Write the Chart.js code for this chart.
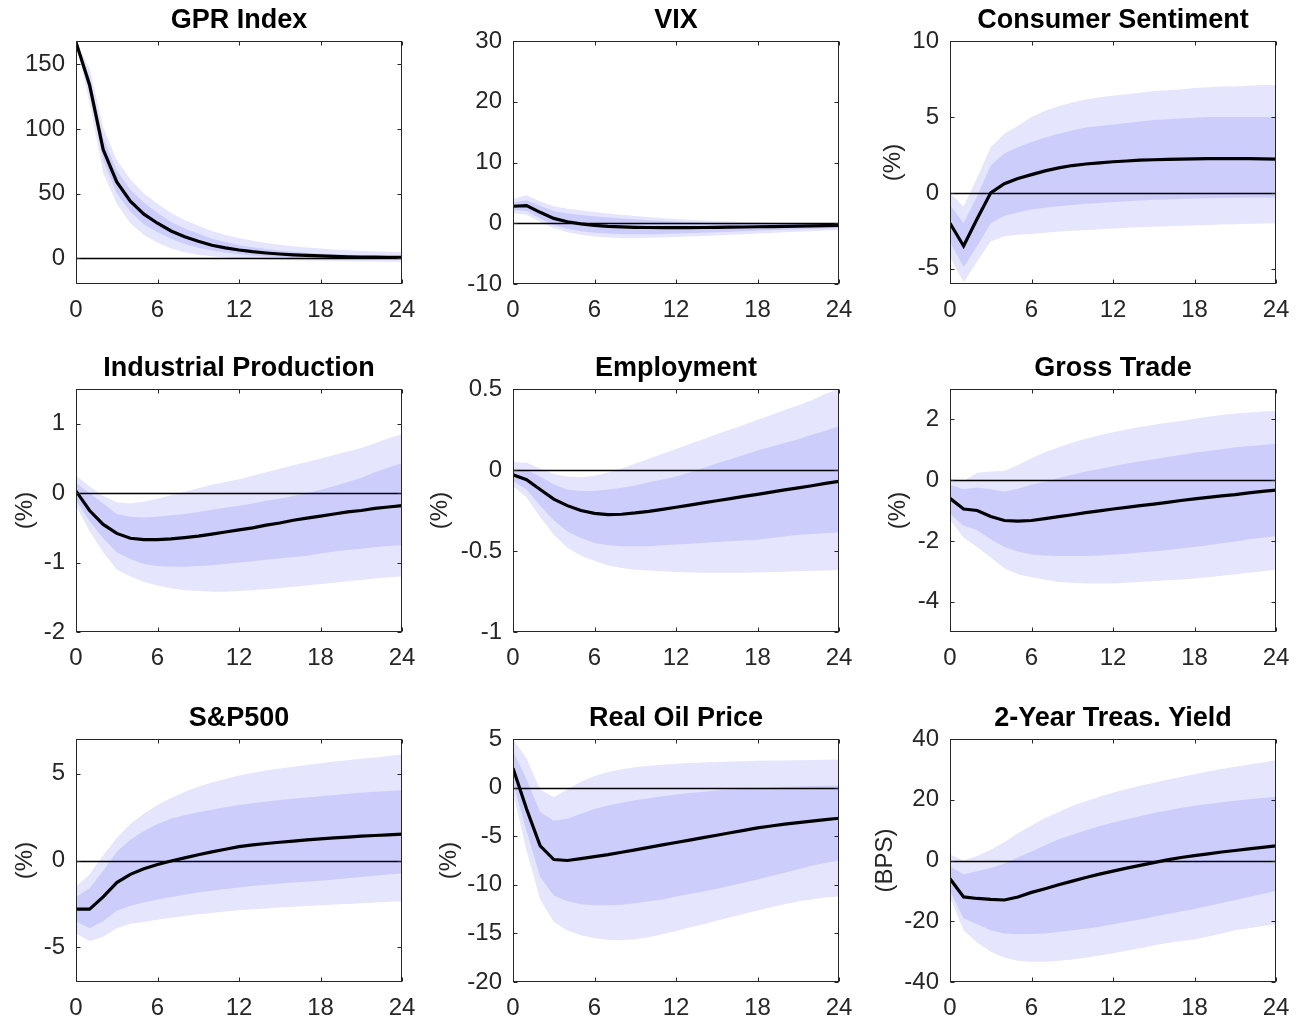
<!DOCTYPE html>
<html lang="en">
<head>
<meta charset="UTF-8">
<title>Impulse responses to a GPR shock</title>
<script src="https://cdn.jsdelivr.net/npm/chart.js@4"></script>
<style>
  body { margin: 0; background: #fff; }
  #grid { position: relative; width: 1302px; height: 1021px; overflow: hidden; }
  #grid canvas { position: absolute; }
</style>
</head>
<body>
<div id="grid"></div>

<script>
// horizons (months after the shock)
const horizons = [0, 1, 2, 3, 4, 5, 6, 7, 8, 9, 10, 11, 12, 13, 14, 15, 16, 17, 18, 19, 20, 21, 22, 23, 24];
const xTicks = [0, 6, 12, 18, 24];

// GPR Index
const gprMedian  = [167, 134, 84, 59, 44, 34, 27, 21, 16.5, 13, 10, 8, 6.3, 5, 4, 3.2, 2.6, 2.1, 1.7, 1.4, 1.1, 0.9, 0.8, 0.7, 0.6];
const gprInnerUp = [167, 140, 93, 68, 53, 43, 35, 28, 23, 19, 15, 12.5, 10, 8.5, 7, 6, 5, 4.2, 3.5, 3, 2.6, 2.2, 1.9, 1.7, 1.5];
const gprInnerLo = [167, 128, 76, 50, 36, 26, 20, 15, 11, 8, 6, 4.3, 3, 2, 1.3, 0.8, 0.4, 0.1, -0.1, -0.3, -0.4, -0.5, -0.6, -0.7, -0.8];
const gprOuterUp = [167, 147, 101, 76, 61, 50, 42, 35, 29.5, 25, 21, 18, 15.5, 13.5, 11.8, 10.4, 9.2, 8.2, 7.4, 6.7, 6.1, 5.6, 5.2, 4.9, 4.6];
const gprOuterLo = [167, 120, 66, 42, 27, 18, 12, 7.5, 4.5, 2.7, 1.4, 0.5, -0.2, -0.7, -1.1, -1.4, -1.7, -1.9, -2.1, -2.3, -2.4, -2.5, -2.6, -2.7, -2.8];

// VIX
const vixMedian  = [2.8, 2.9, 1.8, 0.8, 0.25, -0.1, -0.35, -0.5, -0.6, -0.67, -0.7, -0.72, -0.72, -0.72, -0.7, -0.68, -0.65, -0.62, -0.58, -0.55, -0.5, -0.46, -0.42, -0.38, -0.35];
const vixInnerUp = [3.4, 3.8, 2.9, 2.0, 1.6, 1.35, 1.15, 0.95, 0.8, 0.65, 0.5, 0.4, 0.3, 0.2, 0.12, 0.06, 0.0, -0.03, -0.05, -0.07, -0.08, -0.08, -0.08, -0.08, -0.08];
const vixInnerLo = [2.2, 2.0, 0.8, -0.3, -0.9, -1.3, -1.55, -1.7, -1.8, -1.82, -1.8, -1.75, -1.7, -1.63, -1.55, -1.48, -1.4, -1.32, -1.24, -1.16, -1.08, -1.0, -0.93, -0.86, -0.8];
const vixOuterUp = [4.0, 4.6, 3.6, 2.8, 2.4, 2.1, 1.85, 1.6, 1.4, 1.2, 1.0, 0.85, 0.7, 0.58, 0.47, 0.38, 0.3, 0.22, 0.16, 0.1, 0.06, 0.03, 0.0, -0.02, -0.03];
const vixOuterLo = [1.6, 1.4, 0.2, -0.8, -1.5, -1.9, -2.2, -2.35, -2.45, -2.45, -2.4, -2.35, -2.28, -2.2, -2.1, -2.0, -1.9, -1.8, -1.7, -1.6, -1.5, -1.4, -1.3, -1.2, -1.1];

// Consumer Sentiment
const csMedian  = [-2.0, -3.5, -1.7, 0.0, 0.6, 0.95, 1.2, 1.45, 1.65, 1.8, 1.9, 1.98, 2.05, 2.1, 2.15, 2.18, 2.2, 2.22, 2.24, 2.25, 2.25, 2.25, 2.25, 2.24, 2.22];
const csInnerUp = [-0.8, -2.0, -0.2, 1.8, 2.6, 3.0, 3.35, 3.65, 3.9, 4.1, 4.3, 4.4, 4.5, 4.6, 4.7, 4.8, 4.85, 4.9, 4.95, 5.0, 5.0, 5.0, 5.0, 5.0, 5.0];
const csInnerLo = [-3.2, -4.9, -3.5, -2.0, -1.5, -1.3, -1.1, -0.98, -0.88, -0.8, -0.72, -0.66, -0.6, -0.55, -0.5, -0.46, -0.43, -0.4, -0.37, -0.35, -0.33, -0.32, -0.31, -0.3, -0.3];
const csOuterUp = [0.0, -0.9, 1.0, 3.0, 3.9, 4.4, 5.0, 5.4, 5.7, 5.95, 6.15, 6.3, 6.4, 6.5, 6.6, 6.7, 6.75, 6.8, 6.9, 6.95, 7.0, 7.0, 7.05, 7.1, 7.1];
const csOuterLo = [-4.2, -5.9, -4.5, -3.2, -2.85, -2.75, -2.7, -2.62, -2.55, -2.5, -2.45, -2.4, -2.35, -2.3, -2.27, -2.23, -2.2, -2.17, -2.14, -2.11, -2.08, -2.06, -2.04, -2.02, -2.0];

// Industrial Production
const ipMedian  = [0.03, -0.25, -0.45, -0.58, -0.65, -0.67, -0.67, -0.66, -0.64, -0.62, -0.59, -0.56, -0.53, -0.5, -0.46, -0.43, -0.39, -0.36, -0.33, -0.3, -0.27, -0.25, -0.22, -0.2, -0.18];
const ipInnerUp = [0.15, 0.0, -0.15, -0.3, -0.34, -0.35, -0.34, -0.32, -0.3, -0.27, -0.24, -0.21, -0.18, -0.15, -0.11, -0.08, -0.04, 0.0, 0.05, 0.1, 0.16, 0.22, 0.3, 0.37, 0.43];
const ipInnerLo = [-0.1, -0.4, -0.65, -0.85, -0.95, -1.02, -1.05, -1.06, -1.06, -1.05, -1.04, -1.02, -1.0, -0.98, -0.96, -0.94, -0.92, -0.9, -0.87, -0.84, -0.82, -0.8, -0.78, -0.76, -0.75];
const ipOuterUp = [0.25, 0.1, -0.04, -0.13, -0.15, -0.12, -0.08, -0.03, 0.02, 0.07, 0.12, 0.16, 0.2, 0.25, 0.3, 0.35, 0.4, 0.45, 0.5, 0.55, 0.6, 0.65, 0.72, 0.79, 0.85];
const ipOuterLo = [-0.18, -0.55, -0.85, -1.1, -1.2, -1.28, -1.33, -1.37, -1.4, -1.41, -1.42, -1.42, -1.41, -1.4, -1.38, -1.37, -1.35, -1.33, -1.31, -1.29, -1.27, -1.25, -1.23, -1.21, -1.2];

// Employment
const empMedian  = [-0.03, -0.06, -0.12, -0.18, -0.22, -0.25, -0.268, -0.275, -0.273, -0.265, -0.255, -0.243, -0.23, -0.217, -0.203, -0.19, -0.177, -0.163, -0.15, -0.137, -0.123, -0.11, -0.097, -0.083, -0.07];
const empInnerUp = [0.01, 0.0, -0.04, -0.09, -0.12, -0.13, -0.13, -0.12, -0.11, -0.095, -0.075, -0.058, -0.04, -0.015, 0.012, 0.04, 0.067, 0.093, 0.12, 0.143, 0.167, 0.19, 0.217, 0.243, 0.27];
const empInnerLo = [-0.07, -0.12, -0.22, -0.31, -0.38, -0.42, -0.45, -0.465, -0.47, -0.47, -0.47, -0.465, -0.46, -0.455, -0.45, -0.445, -0.44, -0.435, -0.43, -0.42, -0.41, -0.4, -0.395, -0.39, -0.385];
const empOuterUp = [0.05, 0.045, 0.01, -0.025, -0.04, -0.045, -0.035, -0.015, 0.01, 0.04, 0.07, 0.1, 0.13, 0.16, 0.19, 0.22, 0.25, 0.28, 0.31, 0.34, 0.37, 0.4, 0.43, 0.47, 0.5];
const empOuterLo = [-0.1, -0.17, -0.29, -0.4, -0.48, -0.53, -0.56, -0.59, -0.605, -0.615, -0.62, -0.625, -0.63, -0.632, -0.634, -0.635, -0.635, -0.635, -0.633, -0.63, -0.628, -0.625, -0.622, -0.62, -0.618];

// Gross Trade
const gtMedian  = [-0.6, -0.95, -1.0, -1.2, -1.33, -1.35, -1.33, -1.27, -1.2, -1.14, -1.07, -1.01, -0.95, -0.9, -0.84, -0.79, -0.73, -0.67, -0.62, -0.57, -0.52, -0.48, -0.42, -0.37, -0.33];
const gtInnerUp = [-0.15, -0.3, -0.24, -0.3, -0.38, -0.28, -0.15, -0.05, 0.07, 0.18, 0.28, 0.37, 0.46, 0.54, 0.62, 0.69, 0.76, 0.83, 0.9, 0.96, 1.02, 1.08, 1.12, 1.16, 1.2];
const gtInnerLo = [-1.1, -1.5, -1.65, -1.95, -2.2, -2.35, -2.45, -2.48, -2.5, -2.5, -2.5, -2.48, -2.45, -2.42, -2.38, -2.35, -2.3, -2.25, -2.2, -2.14, -2.08, -2.02, -1.95, -1.9, -1.85];
const gtOuterUp = [0.05, -0.03, 0.24, 0.28, 0.3, 0.5, 0.72, 0.92, 1.08, 1.23, 1.36, 1.48, 1.58, 1.67, 1.75, 1.82, 1.89, 1.95, 2.02, 2.09, 2.14, 2.19, 2.23, 2.26, 2.28];
const gtOuterLo = [-1.3, -1.9, -2.2, -2.55, -2.9, -3.1, -3.2, -3.28, -3.35, -3.38, -3.4, -3.4, -3.4, -3.38, -3.35, -3.32, -3.3, -3.27, -3.24, -3.2, -3.15, -3.1, -3.05, -3.0, -2.95];

// S&P500
const spMedian  = [-2.8, -2.8, -2.1, -1.27, -0.8, -0.48, -0.23, -0.03, 0.15, 0.33, 0.5, 0.65, 0.8, 0.9, 0.98, 1.05, 1.12, 1.19, 1.25, 1.3, 1.35, 1.4, 1.44, 1.48, 1.52];
const spInnerUp = [-2.1, -1.6, -0.6, 0.5, 1.2, 1.7, 2.1, 2.4, 2.6, 2.78, 2.93, 3.07, 3.2, 3.3, 3.4, 3.48, 3.56, 3.63, 3.7, 3.77, 3.84, 3.9, 3.96, 4.0, 4.05];
const spInnerLo = [-3.5, -3.9, -3.5, -2.9, -2.6, -2.42, -2.25, -2.1, -1.97, -1.85, -1.74, -1.64, -1.55, -1.47, -1.4, -1.33, -1.27, -1.22, -1.17, -1.1, -1.02, -0.95, -0.88, -0.81, -0.75];
const spOuterUp = [-1.5, -0.8, 0.3, 1.3, 2.1, 2.7, 3.2, 3.6, 3.95, 4.25, 4.5, 4.7, 4.9, 5.05, 5.18, 5.3, 5.4, 5.5, 5.6, 5.7, 5.78, 5.86, 5.94, 6.02, 6.1];
const spOuterLo = [-4.2, -4.65, -4.4, -3.9, -3.65, -3.55, -3.4, -3.3, -3.2, -3.1, -3.02, -2.94, -2.87, -2.81, -2.76, -2.71, -2.66, -2.62, -2.58, -2.54, -2.5, -2.46, -2.42, -2.38, -2.35];

// Real Oil Price
const oilMedian  = [2.0, -2.2, -6.0, -7.4, -7.5, -7.3, -7.1, -6.9, -6.65, -6.4, -6.15, -5.9, -5.65, -5.4, -5.15, -4.9, -4.65, -4.4, -4.15, -3.95, -3.75, -3.6, -3.45, -3.3, -3.15];
const oilInnerUp = [3.8, 0.8, -2.5, -3.4, -3.2, -2.7, -2.2, -1.85, -1.55, -1.3, -1.1, -0.9, -0.72, -0.56, -0.42, -0.3, -0.2, -0.12, -0.05, 0.02, 0.08, 0.12, 0.16, 0.18, 0.2];
const oilInnerLo = [0.5, -4.5, -9.2, -11.1, -11.7, -12.0, -12.1, -12.1, -12.05, -11.9, -11.7, -11.5, -11.2, -10.95, -10.7, -10.4, -10.1, -9.8, -9.45, -9.1, -8.75, -8.4, -8.05, -7.75, -7.5];
const oilOuterUp = [5.0, 3.0, -0.2, -1.0, -0.2, 0.6, 1.2, 1.6, 1.9, 2.1, 2.25, 2.35, 2.45, 2.52, 2.58, 2.63, 2.68, 2.72, 2.75, 2.78, 2.8, 2.82, 2.84, 2.86, 2.88];
const oilOuterLo = [-0.5, -6.5, -11.5, -13.8, -14.7, -15.2, -15.5, -15.65, -15.7, -15.6, -15.4, -15.1, -14.75, -14.4, -14.05, -13.7, -13.35, -13.0, -12.65, -12.3, -12.0, -11.7, -11.5, -11.3, -11.2];

// 2-Year Treasury Yield
const tyMedian  = [-6, -12, -12.5, -12.8, -13, -12, -10.5, -9.3, -8.0, -6.8, -5.6, -4.5, -3.5, -2.5, -1.6, -0.7, 0.2, 1.0, 1.6, 2.2, 2.8, 3.3, 3.8, 4.3, 4.8];
const tyInnerUp = [-2, -4.5, -3.5, -2.5, -1, 1, 3, 5, 7, 8.5, 10, 11.3, 12.5, 13.6, 14.6, 15.6, 16.5, 17.3, 18, 18.6, 19.2, 19.7, 20.2, 20.6, 21];
const tyInnerLo = [-10, -19, -21, -23, -24, -24.3, -24.2, -24, -23.5, -23, -22.5, -21.8, -21, -20.2, -19.4, -18.5, -17.6, -16.8, -16, -15, -14, -13, -12, -11, -10];
const tyOuterUp = [2, 0, 1.5, 3.5, 6, 9, 11.5, 14, 16, 18, 19.5, 21, 22.3, 23.5, 24.6, 25.6, 26.6, 27.5, 28.4, 29.3, 30.1, 30.9, 31.6, 32.3, 33];
const tyOuterLo = [-12, -23, -27, -30, -32, -33, -33.3, -33.3, -33, -32.6, -32, -31.3, -30.5, -29.7, -28.9, -28, -27.2, -26.5, -26, -25, -24, -23, -22.3, -21.6, -21];

const panels = [
  { title: 'GPR Index', unit: '', yMin: -20, yMax: 168, yTicks: [0, 50, 100, 150], labelGap: 0,
    series: [gprMedian, gprInnerUp, gprInnerLo, gprOuterUp, gprOuterLo] },
  { title: 'VIX', unit: '', yMin: -10, yMax: 30, yTicks: [-10, 0, 10, 20, 30], labelGap: 0,
    series: [vixMedian, vixInnerUp, vixInnerLo, vixOuterUp, vixOuterLo] },
  { title: 'Consumer Sentiment', unit: '(%)', yMin: -6, yMax: 10, yTicks: [-5, 0, 5, 10], labelGap: 57,
    series: [csMedian, csInnerUp, csInnerLo, csOuterUp, csOuterLo] },
  { title: 'Industrial Production', unit: '(%)', yMin: -2, yMax: 1.5, yTicks: [-2, -1, 0, 1], labelGap: 51,
    series: [ipMedian, ipInnerUp, ipInnerLo, ipOuterUp, ipOuterLo] },
  { title: 'Employment', unit: '(%)', yMin: -1, yMax: 0.5, yTicks: [-1, -0.5, 0, 0.5], labelGap: 72.5,
    series: [empMedian, empInnerUp, empInnerLo, empOuterUp, empOuterLo] },
  { title: 'Gross Trade', unit: '(%)', yMin: -5, yMax: 3, yTicks: [-4, -2, 0, 2], labelGap: 51.5,
    series: [gtMedian, gtInnerUp, gtInnerLo, gtOuterUp, gtOuterLo] },
  { title: 'S&P500', unit: '(%)', yMin: -7, yMax: 7, yTicks: [-5, 0, 5], labelGap: 51,
    series: [spMedian, spInnerUp, spInnerLo, spOuterUp, spOuterLo] },
  { title: 'Real Oil Price', unit: '(%)', yMin: -20, yMax: 5, yTicks: [-20, -15, -10, -5, 0, 5], labelGap: 64,
    series: [oilMedian, oilInnerUp, oilInnerLo, oilOuterUp, oilOuterLo] },
  { title: '2-Year Treas. Yield', unit: '(BPS)', yMin: -40, yMax: 40, yTicks: [-40, -20, 0, 20, 40], labelGap: 64.5,
    series: [tyMedian, tyInnerUp, tyInnerLo, tyOuterUp, tyOuterLo] }
];

// page geometry (plot box of every panel)
const colLeft = [76, 513, 950];
const rowTop = [41, 389, 739];
const plotW = 326, plotH = 243;
const axisW = 90, titleH = 41, xAxisH = 56, padRight = 30;

const outerBand = 'rgb(229,229,253)';
const innerBand = 'rgb(205,205,252)';
const axisColor = '#262626';
const tickFont = { family: 'Liberation Sans', size: 24 };

const framePlugin = {
  id: 'frame',
  afterDatasetsDraw(chart) {
    const {ctx, chartArea: a, scales: {x, y}} = chart;
    const l = Math.round(a.left) + 0.5, r = Math.round(a.right) - 0.5;
    const t = Math.round(a.top) + 0.5, b = Math.round(a.bottom) - 0.5;
    ctx.save();
    // zero line
    const y0 = Math.round(y.getPixelForValue(0)) + 0.5;
    ctx.strokeStyle = '#000';
    ctx.lineWidth = 1.3;
    ctx.beginPath();
    ctx.moveTo(l, y0);
    ctx.lineTo(r, y0);
    ctx.stroke();
    // box + inward ticks
    ctx.strokeStyle = axisColor;
    ctx.lineWidth = 1;
    ctx.strokeRect(l, t, r - l, b - t);
    ctx.beginPath();
    y.ticks.forEach(tk => {
      const py = Math.round(y.getPixelForValue(tk.value)) + 0.5;
      ctx.moveTo(l, py); ctx.lineTo(l + 4, py);
      ctx.moveTo(r, py); ctx.lineTo(r - 4, py);
    });
    x.ticks.forEach(tk => {
      const px = Math.round(x.getPixelForValue(tk.value)) + 0.5;
      ctx.moveTo(px, b); ctx.lineTo(px, b - 4);
      ctx.moveTo(px, t); ctx.lineTo(px, t + 4);
    });
    ctx.stroke();
    ctx.restore();
  }
};

const toPoints = vals => vals.map((v, i) => ({x: horizons[i], y: v}));

function band(vals, color, fill) {
  return {
    data: toPoints(vals),
    borderWidth: 0,
    borderColor: 'transparent',
    backgroundColor: color,
    pointRadius: 0,
    fill: fill
  };
}

const grid = document.getElementById('grid');

panels.forEach((p, k) => {
  const row = Math.floor(k / 3), col = k % 3;
  const canvas = document.createElement('canvas');
  canvas.width = axisW + plotW + padRight;
  canvas.height = titleH + plotH + xAxisH;
  canvas.style.left = (colLeft[col] - axisW) + 'px';
  canvas.style.top = (rowTop[row] - titleH) + 'px';
  grid.appendChild(canvas);

  const [med, inUp, inLo, outUp, outLo] = p.series;

  new Chart(canvas, {
    type: 'line',
    data: {
      datasets: [
        {
          data: toPoints(med),
          borderColor: '#000',
          borderWidth: 3.2,
          pointRadius: 0,
          tension: 0,
          fill: false
        },
        band(inUp, innerBand, '+1'),
        band(inLo, innerBand, false),
        band(outUp, outerBand, '+1'),
        band(outLo, outerBand, false)
      ]
    },
    plugins: [framePlugin],
    options: {
      responsive: false,
      animation: false,
      events: [],
      layout: { padding: { left: 0, right: padRight, top: 0, bottom: 0 } },
      plugins: {
        legend: { display: false },
        tooltip: { enabled: false },
        title: {
          display: true,
          text: p.title,
          fullSize: false,
          color: '#000',
          font: { family: 'Liberation Sans', weight: 'bold', size: 27 },
          padding: { top: 4.6, bottom: 4 }
        }
      },
      scales: {
        x: {
          type: 'linear',
          min: 0,
          max: 24,
          grid: { display: false, drawTicks: false },
          border: { display: false },
          afterBuildTicks: s => { s.ticks = xTicks.map(v => ({value: v})); },
          afterFit: s => { s.height = xAxisH; },
          ticks: {
            color: axisColor,
            font: tickFont,
            padding: 12,
            maxRotation: 0,
            autoSkip: false,
            callback: v => String(v)
          }
        },
        y: {
          min: p.yMin,
          max: p.yMax,
          grid: { display: false, drawTicks: false },
          border: { display: false },
          afterBuildTicks: s => { s.ticks = p.yTicks.map(v => ({value: v})); },
          afterFit: s => { s.width = axisW; },
          ticks: {
            color: axisColor,
            font: tickFont,
            padding: 11,
            autoSkip: false,
            callback: v => String(v)
          },
          title: {
            display: p.unit !== '',
            text: p.unit,
            color: axisColor,
            font: tickFont,
            padding: { top: axisW - p.labelGap - 14.4, bottom: 0 }
          }
        }
      }
    }
  });
});
</script>
</body>
</html>
